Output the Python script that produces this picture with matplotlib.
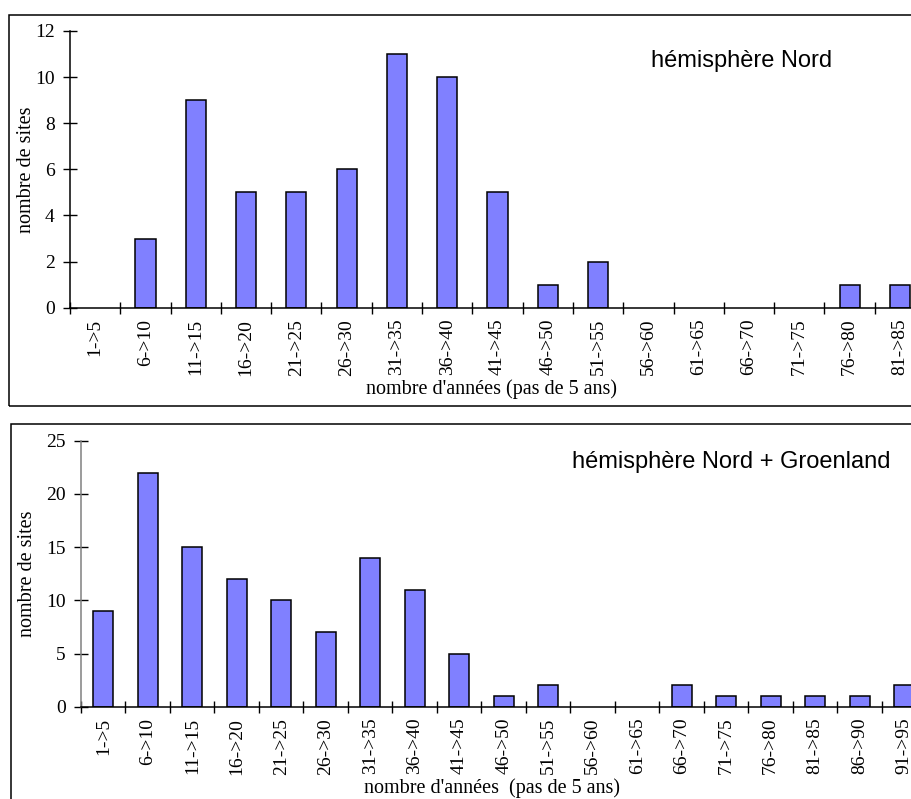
import matplotlib.pyplot as plt
import numpy as np
from matplotlib.patches import Rectangle

# données
cats_nord = ["1->5", "6->10", "11->15", "16->20", "21->25", "26->30", "31->35",
             "36->40", "41->45", "46->50", "51->55", "56->60", "61->65",
             "66->70", "71->75", "76->80", "81->85"]
sites_nord = [0, 3, 9, 5, 5, 6, 11, 10, 5, 1, 2, 0, 0, 0, 0, 1, 1]

cats_groen = cats_nord + ["86->90", "91->95"]
sites_groen = [9, 22, 15, 12, 10, 7, 14, 11, 5, 1, 2, 0, 0, 2, 1, 1, 1, 1, 2]

bar_color = "#8080FF"
serif = "Liberation Serif"
sans = "Liberation Sans"

W, H = 912, 799
fig = plt.figure(figsize=(W / 100, H / 100), dpi=100)


def px(x, y):
    # pixels (depuis le haut) -> coordonnées figure
    return x / W, 1 - y / H


# cadres autour des deux graphiques
for (x0, y0, x1, y1) in [(9, 15, 960, 406), (11, 424, 960, 840)]:
    fig.patches.append(Rectangle(px(x0, y1), (x1 - x0) / W, (y1 - y0) / H,
                                 transform=fig.transFigure, fill=False,
                                 edgecolor="black", linewidth=1.1, clip_on=False))


def panel(rect, cats, vals, ymax, ystep, bw, ycolor, title, tpos, xlab, xlab_y, ylab_x):
    ax = fig.add_axes(rect)
    n = len(cats)
    x = np.arange(n)
    lw = [1.1 if v > 0 else 0 for v in vals]
    ax.bar(x, vals, width=bw, color=bar_color, edgecolor="black", linewidth=lw)
    ax.set_xlim(-0.5, n - 0.5)
    ax.set_ylim(0, ymax)
    for s in ["top", "right"]:
        ax.spines[s].set_visible(False)
    ax.spines["left"].set_color(ycolor)
    ax.spines["left"].set_linewidth(1.1)
    ax.spines["bottom"].set_linewidth(1.1)
    ax.set_yticks(np.arange(0, ymax + 1, ystep))
    ax.tick_params(axis="y", direction="inout", length=10, width=1, colors="black",
                   labelsize=14, pad=6)
    ax.set_xticks(np.arange(n + 1) - 0.5)
    ax.set_xticklabels([])
    ax.set_xticks(x, minor=True)
    ax.set_xticklabels(cats, minor=True, rotation=90, fontsize=14, family=serif)
    ax.tick_params(axis="x", which="major", direction="inout", length=9, width=1)
    ax.tick_params(axis="x", which="minor", length=0, pad=8)
    for t in ax.get_yticklabels():
        t.set_family(serif)
    fig.text(*px(*tpos), title, family=sans, fontsize=17, va="center", ha="left")
    fig.text(*px(492, xlab_y), xlab, family=serif, fontsize=14.5, ha="center", va="center")
    y_mid = (rect[1] + rect[3] / 2)
    fig.text(ylab_x / W, y_mid, "nombre de sites", family=serif, fontsize=14.5,
             rotation=90, ha="center", va="center")
    return ax


panel([70 / W, (H - 307.7) / H, 855 / W, 276.7 / H], cats_nord, sites_nord, 12, 2, 0.4,
      "black", "hémisphère Nord", (651, 61), "nombre d'années (pas de 5 ans)", 389, 27)
panel([81 / W, (H - 706.7) / H, 845.5 / W, 266 / H], cats_groen, sites_groen, 25, 5, 0.44,
      "#808080", "hémisphère Nord + Groenland", (572, 462),
      "nombre d'années  (pas de 5 ans)", 788, 28)

fig.savefig("out.png", dpi=100)
